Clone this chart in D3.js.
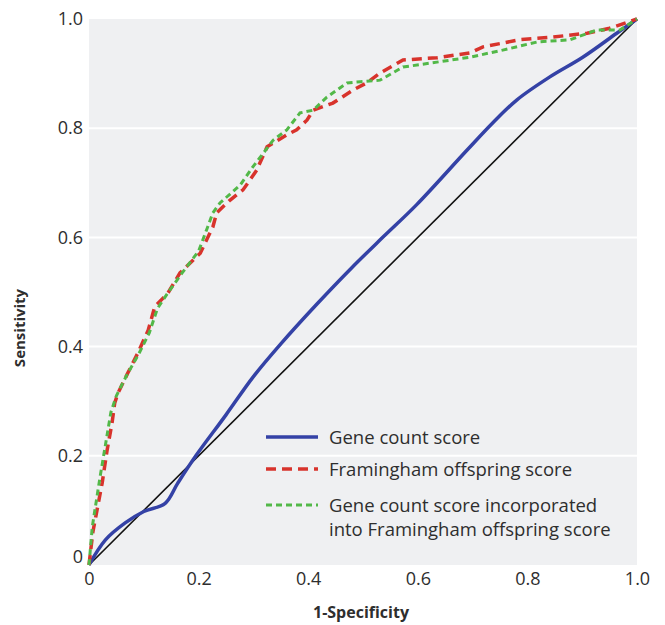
<!DOCTYPE html>
<html>
<head>
<meta charset="utf-8">
<script src="https://cdn.jsdelivr.net/npm/d3@7"></script>
<style>
  body { margin: 0; background: #fff; }
  svg text { font-family: "Open Sans", sans-serif; fill: #2e2e2e; }
</style>
</head>
<body>
<svg width="665" height="625"></svg>
<script>
'use strict';

// 1-specificity / sensitivity pairs
var geneCount = [
  [0, 0], [0.03, 0.046], [0.066, 0.077], [0.10, 0.098], [0.139, 0.113], [0.162, 0.15],
  [0.195, 0.2], [0.25, 0.275], [0.3, 0.345], [0.35, 0.405], [0.416, 0.478], [0.48, 0.545],
  [0.537, 0.601], [0.598, 0.66], [0.69, 0.76], [0.737, 0.81], [0.781, 0.852],
  [0.841, 0.894], [0.901, 0.93], [0.963, 0.974], [1, 1]
];

var framingham = [
  [0, 0], [0.007, 0.06], [0.024, 0.15], [0.033, 0.21], [0.042, 0.26], [0.047, 0.297],
  [0.053, 0.315], [0.071, 0.352], [0.089, 0.388], [0.108, 0.43], [0.12, 0.473],
  [0.144, 0.498], [0.166, 0.535], [0.203, 0.571], [0.226, 0.619], [0.233, 0.645],
  [0.257, 0.668], [0.281, 0.687], [0.306, 0.723], [0.325, 0.766], [0.361, 0.788],
  [0.379, 0.797], [0.398, 0.815], [0.409, 0.833], [0.445, 0.846], [0.482, 0.87],
  [0.507, 0.883], [0.531, 0.901], [0.573, 0.925], [0.635, 0.929], [0.695, 0.938],
  [0.719, 0.949], [0.786, 0.962], [0.847, 0.967], [0.909, 0.974], [0.95, 0.983], [1, 1]
];

var combined = [
  [0, 0], [0.006, 0.07], [0.02, 0.16], [0.03, 0.22], [0.04, 0.28], [0.05, 0.31],
  [0.07, 0.35], [0.09, 0.385], [0.11, 0.425], [0.125, 0.47], [0.145, 0.5], [0.17, 0.535],
  [0.2, 0.575], [0.215, 0.615], [0.226, 0.645], [0.239, 0.663], [0.276, 0.696],
  [0.299, 0.729], [0.336, 0.778], [0.361, 0.797], [0.385, 0.828], [0.409, 0.833],
  [0.434, 0.857], [0.471, 0.883], [0.495, 0.885], [0.531, 0.888], [0.573, 0.912],
  [0.635, 0.921], [0.695, 0.93], [0.755, 0.943], [0.818, 0.958], [0.878, 0.962],
  [0.927, 0.98], [0.969, 0.98], [1, 1]
];

var reference = [[0, 0], [1, 1]];

var ticks = [0, 0.2, 0.4, 0.6, 0.8, 1.0];
var tickLabels = ["0", "0.2", "0.4", "0.6", "0.8", "1.0"];

var legendLabels = [
  ["Gene count score"],
  ["Framingham offspring score"],
  ["Gene count score incorporated", "into Framingham offspring score"]
];

var svg = d3.select("svg"),
  margin = { top: 19, right: 28, bottom: 60, left: 89 },
  width = +svg.attr("width") - margin.left - margin.right,
  height = +svg.attr("height") - margin.top - margin.bottom;

var x = d3.scaleLinear().domain([0, 1]).range([0, width]),
  y = d3.scaleLinear().domain([0, 1]).range([height, 0]);

var g = svg.append("g")
  .attr("transform", "translate(" + margin.left + "," + margin.top + ")");

g.append("rect")
  .attr("width", width)
  .attr("height", height)
  .attr("fill", "#eff0f2");

// white horizontal grid
g.selectAll(".grid")
  .data(ticks.slice(1, -1))
  .enter().append("line")
  .attr("x1", 0).attr("x2", width)
  .attr("y1", function (d) { return y(d); })
  .attr("y2", function (d) { return y(d); })
  .attr("stroke", "#fff")
  .attr("stroke-width", 2);

var xAxis = g.append("g")
  .attr("transform", "translate(0," + height + ")")
  .call(d3.axisBottom(x).tickValues(ticks).tickSize(0).tickPadding(7)
    .tickFormat(function (d, i) { return tickLabels[i]; }));

var yAxis = g.append("g")
  .call(d3.axisLeft(y).tickValues(ticks).tickSize(0).tickPadding(6)
    .tickFormat(function (d, i) { return tickLabels[i]; }));

[xAxis, yAxis].forEach(function (a) {
  a.select(".domain").remove();
  a.selectAll("text").attr("font-size", 18).attr("font-family", null).attr("fill", "#333");
});
// zero label on the y axis sits a bit higher
yAxis.selectAll(".tick text").filter(function (d) { return d === 0; }).attr("dy", "-0.15em");

svg.append("text")
  .attr("x", margin.left + width / 2 - 2)
  .attr("y", 618)
  .attr("text-anchor", "middle")
  .attr("font-size", 16)
  .attr("font-weight", "bold")
  .text("1-Specificity");

svg.append("text")
  .attr("transform", "translate(25," + (margin.top + height / 2 + 36) + ") rotate(-90)")
  .attr("text-anchor", "middle")
  .attr("font-size", 15)
  .attr("font-weight", "bold")
  .text("Sensitivity");

var line = d3.line()
  .x(function (d) { return x(d[0]); })
  .y(function (d) { return y(d[1]); });

var smooth = d3.line()
  .curve(d3.curveCatmullRom)
  .x(function (d) { return x(d[0]); })
  .y(function (d) { return y(d[1]); });

g.append("path").datum(reference)
  .attr("d", line).attr("fill", "none")
  .attr("stroke", "#111").attr("stroke-width", 1.6);

g.append("path").datum(geneCount)
  .attr("d", smooth).attr("fill", "none")
  .attr("stroke", "#3442a6").attr("stroke-width", 3.5);

g.append("path").datum(framingham)
  .attr("d", line).attr("fill", "none")
  .attr("stroke", "#d8332c").attr("stroke-width", 3.5)
  .attr("stroke-dasharray", "10,6");

g.append("path").datum(combined)
  .attr("d", line).attr("fill", "none")
  .attr("stroke", "#52b848").attr("stroke-width", 3)
  .attr("stroke-dasharray", "6,4");

// legend
var legendStyles = [
  { color: "#3442a6", dash: null, w: 3.5 },
  { color: "#d8332c", dash: "10,6", w: 3.5 },
  { color: "#52b848", dash: "6,4", w: 3 }
];
var legendY = [437, 469, 505];

legendLabels.forEach(function (lines, i) {
  var s = legendStyles[i];
  svg.append("line")
    .attr("x1", 266).attr("x2", 318)
    .attr("y1", legendY[i]).attr("y2", legendY[i])
    .attr("stroke", s.color).attr("stroke-width", s.w)
    .attr("stroke-dasharray", s.dash);
  var t = svg.append("text")
    .attr("x", 329)
    .attr("y", legendY[i] + 7)
    .attr("font-size", 18.5);
  lines.forEach(function (l, j) {
    t.append("tspan").attr("x", 329).attr("dy", j === 0 ? 0 : 24).text(l);
  });
});
</script>
</body>
</html>
